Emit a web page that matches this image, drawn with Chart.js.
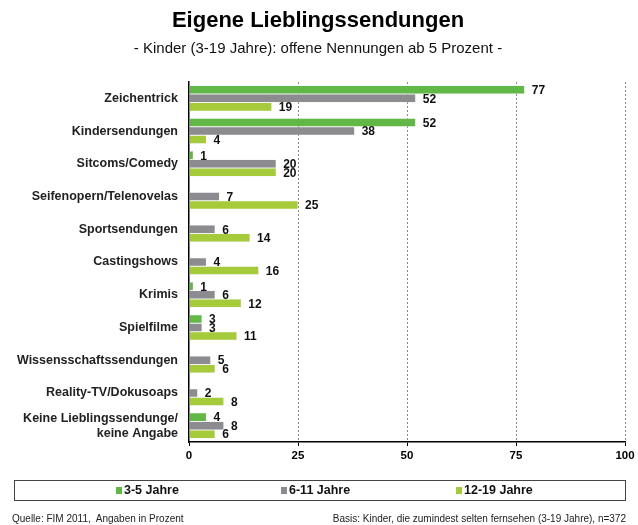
<!DOCTYPE html>
<html>
<head>
<meta charset="utf-8">
<script src="https://cdn.jsdelivr.net/npm/chart.js@4"></script>
<style>
  body { margin: 0; background: #fff; font-family: "Liberation Sans", Arial, sans-serif; }
  #wrap { position: relative; width: 638px; height: 525px; }
  #chart { position: absolute; left: 0; top: 0; }
  .title { position: absolute; left: 0; width: 636px; text-align: center; top: 7px; font-size: 22px; font-weight: bold; color: #000; }
  .subtitle { position: absolute; left: 0; width: 636px; text-align: center; top: 39px; font-size: 15px; color: #111; }
  .legend { position: absolute; left: 14px; top: 480px; width: 610px; height: 19px; border: 1px solid #444; font-size: 12.5px; font-weight: bold; color: #111; }
  .legend span { position: absolute; top: 2px; }
  .legend i { display: inline-block; width: 6px; height: 7px; margin-right: 2px; }
  .foot { position: absolute; top: 513px; font-size: 10px; color: #222; }
</style>
</head>
<body>
<div id="wrap">
  <canvas id="chart" width="638" height="525"></canvas>
  <div class="title">Eigene Lieblingssendungen</div>
  <div class="subtitle">- Kinder (3-19 Jahre): offene Nennungen ab 5 Prozent -</div>
  <div class="legend" id="legend"></div>
  <div class="foot" style="left:12px">Quelle: FIM 2011,&nbsp; Angaben in Prozent</div>
  <div class="foot" style="right:12px">Basis: Kinder, die zumindest selten fernsehen (3-19 Jahre), n=372</div>
</div>
<script>
const categories = [
  "Zeichentrick",
  "Kindersendungen",
  "Sitcoms/Comedy",
  "Seifenopern/Telenovelas",
  "Sportsendungen",
  "Castingshows",
  "Krimis",
  "Spielfilme",
  "Wissensschaftssendungen",
  "Reality-TV/Dokusoaps",
  ["Keine Lieblingssendunge/", "keine Angabe"]
];
const seriesNames = ["3-5 Jahre", "6-11 Jahre", "12-19 Jahre"];
const age3to5 = [77, 52, 1, null, null, null, 1, 3, null, null, 4];
const age6to11 = [52, 38, 20, 7, 6, 4, 6, 3, 5, 2, 8];
const age12to19 = [19, 4, 20, 25, 14, 16, 12, 11, 6, 8, 6];
const xTicks = [0, 25, 50, 75, 100];

const colors = ['#62b847', '#8c8c90', '#a5cb3a'];
const font = '"Liberation Sans", Arial, sans-serif';

// legend in html, box round it like the original
const legendEl = document.getElementById('legend');
const legendPos = [101, 266, 441];
seriesNames.forEach((name, i) => {
    const s = document.createElement('span');
    s.style.left = legendPos[i] + 'px';
    s.innerHTML = '<i style="background:' + colors[i] + '"></i>' + name;
    legendEl.appendChild(s);
});

// value labels right of each bar
const valueLabels = {
    id: 'valueLabels',
    afterDatasetsDraw(chart) {
        const ctx = chart.ctx;
        ctx.save();
        ctx.font = 'bold 12px ' + font;
        ctx.fillStyle = '#111';
        ctx.textBaseline = 'middle';
        ctx.textAlign = 'left';
        chart.data.datasets.forEach((ds, di) => {
            const meta = chart.getDatasetMeta(di);
            meta.data.forEach((bar, i) => {
                const v = ds.data[i];
                if (v === null || v === undefined) return;
                ctx.fillText(v, bar.x + 7, bar.y + 1);
            });
        });
        ctx.restore();
    }
};

new Chart(document.getElementById('chart').getContext('2d'), {
    type: 'bar',
    data: {
        labels: categories,
        datasets: [
            { label: seriesNames[0], data: age3to5, backgroundColor: colors[0] },
            { label: seriesNames[1], data: age6to11, backgroundColor: colors[1] },
            { label: seriesNames[2], data: age12to19, backgroundColor: colors[2] }
        ]
    },
    options: {
        indexAxis: 'y',
        responsive: false,
        animation: false,
        layout: { padding: { top: 82, right: 13, left: 0, bottom: 0 } },
        datasets: {
            bar: { categoryPercentage: 0.78, barPercentage: 1.0, borderWidth: 0.5, borderColor: '#e8e8e8' }
        },
        plugins: {
            legend: { display: false },
            title: { display: false },
            tooltip: { enabled: false }
        },
        scales: {
            x: {
                min: 0,
                max: 100,
                afterFit: s => { s.height = 83; },
                afterBuildTicks: s => { s.ticks = xTicks.map(v => ({ value: v })); },
                border: { display: true, color: '#000', width: 1.5, dash: [2, 2] },
                grid: {
                    color: ctx => ctx.tick && ctx.tick.value === 0 ? 'rgba(0,0,0,0)' : '#8a8a8a',
                    lineWidth: 1,
                    drawTicks: true,
                    tickLength: 4,
                    tickColor: '#000',
                    tickBorderDash: []
                },
                ticks: {
                    color: '#000',
                    padding: 3,
                    font: { family: font, size: 11.5, weight: 'bold' }
                }
            },
            y: {
                afterFit: s => { s.width = 189; },
                border: { display: true, color: '#000', width: 1.5 },
                grid: { display: false },
                ticks: {
                    color: '#222',
                    padding: 3,
                    autoSkip: false,
                    font: { family: font, size: 12.5, weight: 'bold' }
                }
            }
        }
    },
    plugins: [valueLabels]
});
</script>
</body>
</html>
